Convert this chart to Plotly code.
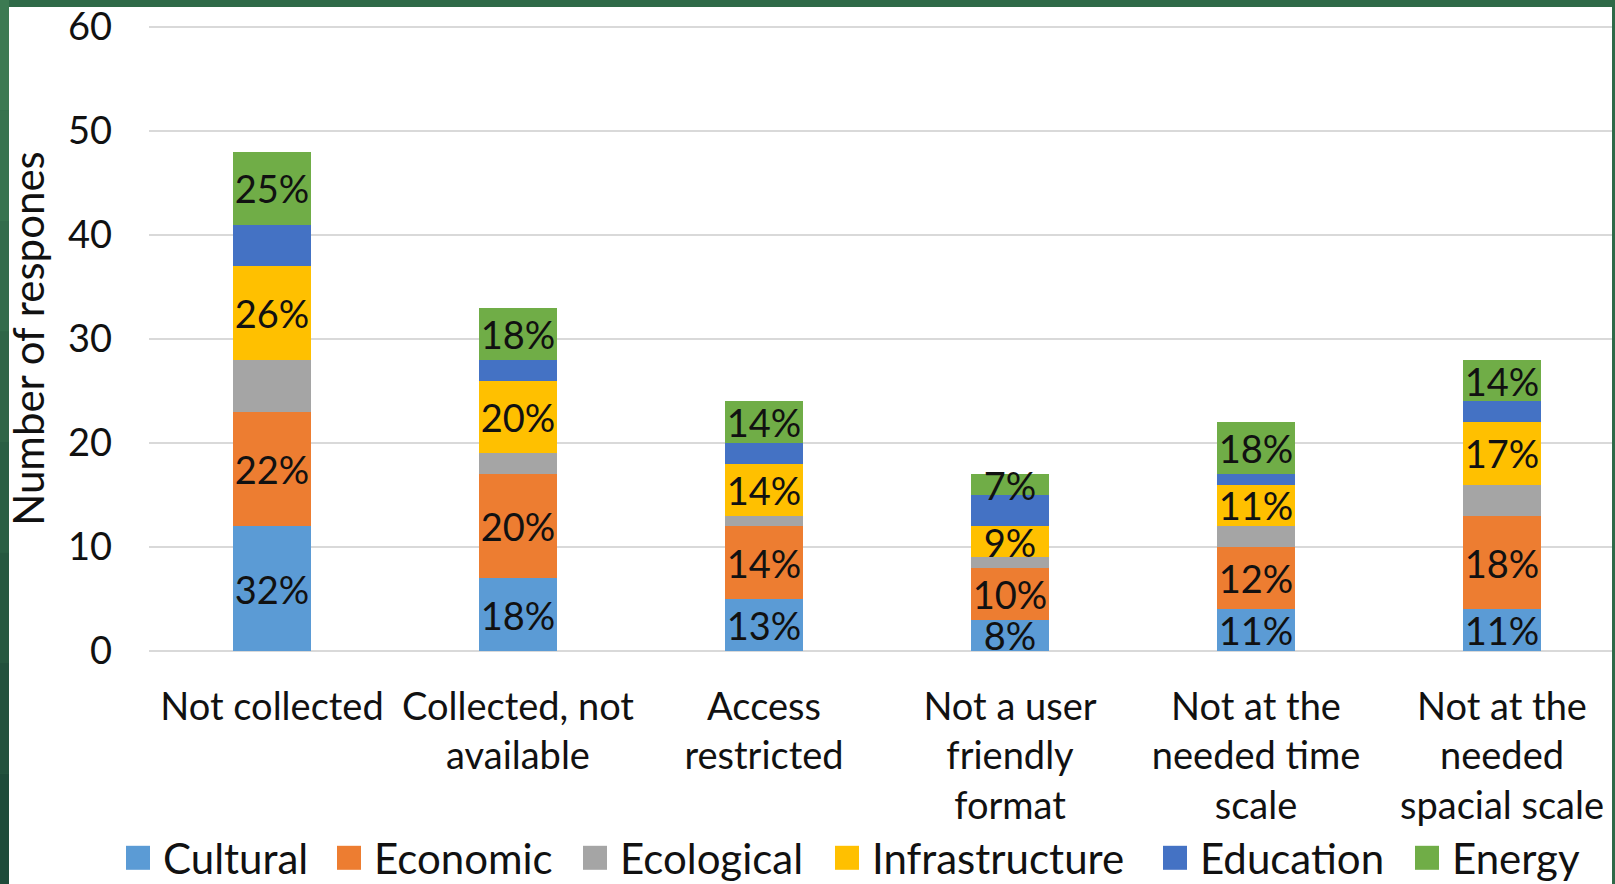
import plotly.graph_objects as go

categories = ["Not collected", "Collected, not<br>available", "Access<br>restricted",
              "Not a user<br>friendly<br>format", "Not at the<br>needed time<br>scale",
              "Not at the<br>needed<br>spacial scale"]

cultural = [12, 7, 5, 3, 4, 4]
economic = [11, 10, 7, 5, 6, 9]
ecological = [5, 2, 1, 1, 2, 3]
infrastructure = [9, 7, 5, 3, 4, 6]
education = [4, 2, 2, 3, 1, 2]
energy = [7, 5, 4, 2, 5, 4]

cultural_labels = ["32%", "18%", "13%", "8%", "11%", "11%"]
economic_labels = ["22%", "20%", "14%", "10%", "12%", "18%"]
infrastructure_labels = ["26%", "20%", "14%", "9%", "11%", "17%"]
energy_labels = ["25%", "18%", "14%", "7%", "18%", "14%"]

y_tick_values = [0, 10, 20, 30, 40, 50, 60]

series = [
    ("Cultural", cultural, cultural_labels, "#5B9BD5"),
    ("Economic", economic, economic_labels, "#ED7D31"),
    ("Ecological", ecological, None, "#A5A5A5"),
    ("Infrastructure", infrastructure, infrastructure_labels, "#FFC000"),
    ("Education", education, None, "#4472C4"),
    ("Energy", energy, energy_labels, "#70AD47"),
]

FONT = "Lato"
FS = 38
FS_BIG = 42
TXT = "#111111"
W, H = 1615, 884
L, R, T, B = 149, 3, 26, 233
PW, PH = W - L - R, H - T - B
YMAX = 60.1

# pixel x where each legend entry's text begins (layout only)
legend_text_px = [163, 374, 620, 872, 1200, 1452]


def px_x(px):
    return (px - L) / PW


def px_y(py):
    return (H - B - py) / PH


fig = go.Figure()
legend_layout = {}
for i, (name, vals, labels, color) in enumerate(series):
    lid = "legend" if i == 0 else "legend%d" % (i + 1)
    fig.add_trace(go.Bar(
        name=name, x=categories, y=vals,
        marker=dict(color=color, line=dict(width=0)),
        text=labels if labels else None,
        textposition="inside" if labels else "none",
        insidetextanchor="middle",
        textangle=0,
        insidetextfont=dict(family=FONT, size=FS, color=TXT),
        constraintext="none",
        cliponaxis=False,
        legend=lid,
    ))
    legend_layout[lid] = dict(orientation="h", x=px_x(legend_text_px[i] - 40), xanchor="left",
                              y=px_y(858), yanchor="middle",
                              font=dict(family=FONT, size=FS_BIG, color=TXT),
                              bgcolor="rgba(0,0,0,0)", borderwidth=0, itemwidth=30)

# background: white card on a green slide edge
shapes = [dict(type="rect", xref="paper", yref="paper", layer="below",
               x0=px_x(-5), x1=px_x(W + 5), y0=px_y(H + 5), y1=px_y(-5),
               fillcolor="#2f6a48", line=dict(width=0))]
n = 8
for i in range(n):
    t = i / (n - 1)
    c = (int(0x3c + (0x1e - 0x3c) * t), int(0x7a + (0x4b - 0x7a) * t), int(0x52 + (0x3a - 0x52) * t))
    shapes.append(dict(type="rect", xref="paper", yref="paper", layer="below",
                       x0=px_x(-5), x1=px_x(9), y0=px_y(H * (i + 1) / n + (5 if i == n - 1 else 0)),
                       y1=px_y(H * i / n - (5 if i == 0 else 0)),
                       fillcolor="rgb(%d,%d,%d)" % c, line=dict(width=0)))
shapes.append(dict(type="rect", xref="paper", yref="paper", layer="below",
                   x0=px_x(9), x1=px_x(W - 3), y0=px_y(H + 20), y1=px_y(7),
                   fillcolor="white", line=dict(width=0)))

fig.update_layout(
    width=W, height=H,
    margin=dict(l=L, r=R, t=T, b=B, pad=0, autoexpand=False),
    barmode="stack",
    bargap=0.683,
    paper_bgcolor="#3a7850",
    plot_bgcolor="rgba(0,0,0,0)",
    font=dict(family=FONT, size=FS, color=TXT),
    uniformtext=dict(minsize=FS, mode="show"),
    showlegend=True,
    xaxis=dict(range=[-0.5, -0.5 + PW / 246.0], showgrid=False, zeroline=False, showline=False,
               ticks="", tickfont=dict(family=FONT, size=FS, color=TXT),
               ticklabelstandoff=30, automargin=False, fixedrange=True),
    yaxis=dict(range=[0, YMAX], tickvals=y_tick_values, showgrid=True, gridcolor="#D9D9D9", gridwidth=2,
               zeroline=True, zerolinecolor="#D9D9D9", zerolinewidth=2, showline=False,
               ticks="", tickfont=dict(family=FONT, size=FS, color=TXT),
               ticklabelstandoff=36, automargin=False, fixedrange=True,
               title=dict(text="Number of respones", font=dict(family=FONT, size=FS_BIG, color=TXT),
                          standoff=10)),
    shapes=shapes,
    **legend_layout,
)

post = """
document.body.style.margin = '0';
document.body.style.padding = '0';
var gd = document.getElementById('{plot_id}');
function fixLegend(){
  gd.querySelectorAll('.legendpoints path').forEach(function(p){
    p.setAttribute('transform','translate(15,0) scale(2)');
  });
}
fixLegend();
if (gd.on) { gd.on('plotly_afterplot', fixLegend); }
"""

fig.write_html("out.html", post_script=post, config={"displayModeBar": False})
